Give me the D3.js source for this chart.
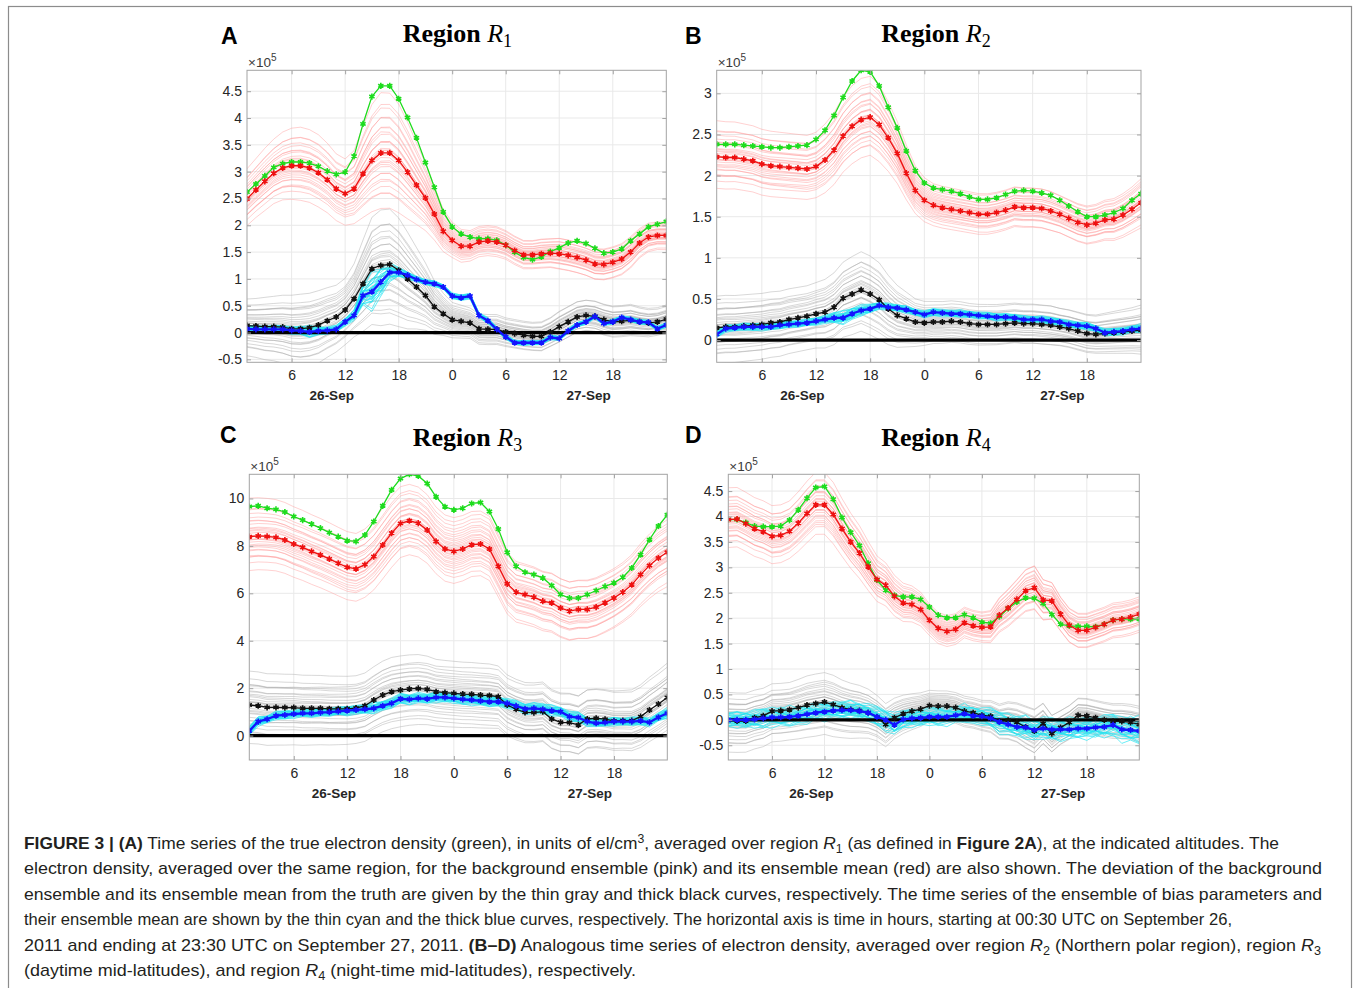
<!DOCTYPE html>
<html><head><meta charset="utf-8">
<script src="https://cdn.jsdelivr.net/npm/d3@7"></script>
<style>body{margin:0;background:#fff}svg{display:block}</style>
</head><body><svg id="chart" width="1356" height="988"></svg>
<script>
// ---------- shared axis data ----------
const hours = d3.range(1, 49); // 00:30 26-Sep ... 23:30 27-Sep (index 1..48)
const xTicks = [6, 12, 18, 24, 30, 36, 42];
const xTickLabels = ["6", "12", "18", "0", "6", "12", "18"];
const dateTicks = [10.5, 39.3];
const dateLabels = ["26-Sep", "27-Sep"];
const yTicksA = [-0.5, 0, 0.5, 1, 1.5, 2, 2.5, 3, 3.5, 4, 4.5];
const yTicksB = [0, 0.5, 1, 1.5, 2, 2.5, 3];
const yTicksC = [0, 2, 4, 6, 8, 10];
const yTicksD = [-0.5, 0, 0.5, 1, 1.5, 2, 2.5, 3, 3.5, 4, 4.5];

// ---------- Region R1 (x 1e5 el/cm3) ----------
const greenA = [2.62,2.77,2.92,3.08,3.15,3.18,3.18,3.16,3.10,3.01,2.95,2.99,3.29,3.89,4.40,4.60,4.60,4.36,4.01,3.63,3.17,2.71,2.25,1.97,1.84,1.78,1.75,1.75,1.72,1.63,1.50,1.40,1.36,1.41,1.51,1.58,1.67,1.71,1.66,1.57,1.48,1.50,1.56,1.71,1.84,1.97,2.02,2.07];
const redA   = [2.49,2.66,2.82,2.97,3.07,3.11,3.11,3.07,2.98,2.85,2.68,2.59,2.68,2.96,3.21,3.35,3.35,3.21,2.99,2.75,2.51,2.21,1.89,1.72,1.61,1.61,1.69,1.71,1.69,1.63,1.53,1.45,1.45,1.47,1.48,1.47,1.44,1.40,1.35,1.28,1.27,1.31,1.37,1.50,1.67,1.78,1.81,1.81];
const blackA = [0.13,0.12,0.11,0.11,0.10,0.07,0.07,0.09,0.14,0.22,0.29,0.42,0.63,0.91,1.19,1.25,1.27,1.16,1.00,0.85,0.69,0.48,0.35,0.24,0.21,0.18,0.07,0.06,0.06,0.01,-0.02,-0.05,-0.07,-0.07,0.01,0.11,0.20,0.29,0.32,0.30,0.24,0.20,0.21,0.23,0.20,0.18,0.20,0.25];
const blueA  = [0.07,0.06,0.06,0.06,0.06,0.04,0.03,0.01,0.03,0.04,0.06,0.20,0.32,0.69,0.76,0.94,1.12,1.12,1.07,0.99,0.94,0.91,0.85,0.68,0.65,0.68,0.32,0.22,0.06,-0.08,-0.19,-0.19,-0.19,-0.19,-0.09,-0.11,0.03,0.14,0.20,0.30,0.17,0.20,0.28,0.24,0.20,0.19,0.07,0.14];
const pinkSpreadA = [0.45,0.47,0.5,0.52,0.55,0.58,0.6,0.6,0.6,0.58,0.56,0.56,0.62,0.78,0.92,1.0,1.0,0.95,0.85,0.72,0.6,0.48,0.38,0.32,0.3,0.28,0.28,0.28,0.28,0.27,0.27,0.27,0.27,0.28,0.28,0.3,0.3,0.3,0.3,0.3,0.3,0.3,0.3,0.3,0.28,0.27,0.26,0.26];
const cyanSpreadA = [0.08,0.08,0.08,0.08,0.08,0.08,0.1,0.12,0.1,0.08,0.08,0.08,0.12,0.25,0.4,0.35,0.2,0.1,0.08,0.06,0.06,0.06,0.06,0.06,0.06,0.06,0.06,0.06,0.05,0.05,0.05,0.05,0.05,0.05,0.05,0.05,0.05,0.05,0.05,0.05,0.05,0.05,0.05,0.05,0.05,0.05,0.05,0.05];

// ---------- Region R2 ----------
const greenB = [2.38,2.38,2.38,2.37,2.36,2.35,2.34,2.34,2.35,2.36,2.37,2.44,2.55,2.73,2.95,3.15,3.28,3.26,3.09,2.83,2.58,2.30,2.06,1.91,1.85,1.83,1.81,1.78,1.74,1.71,1.71,1.73,1.77,1.81,1.82,1.81,1.79,1.76,1.70,1.63,1.56,1.50,1.50,1.52,1.55,1.60,1.70,1.78];
const redB   = [2.23,2.22,2.22,2.20,2.18,2.14,2.12,2.11,2.10,2.09,2.08,2.11,2.19,2.31,2.48,2.60,2.68,2.71,2.62,2.46,2.27,2.03,1.82,1.70,1.64,1.61,1.59,1.57,1.55,1.53,1.53,1.55,1.58,1.62,1.61,1.61,1.60,1.57,1.53,1.48,1.43,1.40,1.42,1.46,1.47,1.52,1.59,1.67];
const blackB = [0.15,0.16,0.16,0.17,0.18,0.19,0.21,0.22,0.25,0.27,0.29,0.32,0.34,0.40,0.51,0.56,0.61,0.56,0.49,0.38,0.30,0.26,0.22,0.21,0.22,0.22,0.23,0.22,0.20,0.19,0.19,0.19,0.20,0.21,0.20,0.20,0.19,0.18,0.16,0.14,0.11,0.08,0.07,0.08,0.09,0.10,0.11,0.12];
const blueB  = [0.07,0.14,0.15,0.16,0.16,0.16,0.16,0.18,0.19,0.20,0.21,0.23,0.25,0.27,0.27,0.32,0.36,0.38,0.42,0.40,0.39,0.37,0.34,0.31,0.34,0.33,0.32,0.32,0.31,0.30,0.29,0.28,0.28,0.27,0.25,0.25,0.25,0.23,0.22,0.19,0.18,0.17,0.14,0.09,0.10,0.11,0.13,0.14];
const pinkSpreadB = [0.35,0.35,0.35,0.35,0.35,0.35,0.35,0.35,0.35,0.35,0.35,0.36,0.38,0.4,0.42,0.44,0.45,0.45,0.44,0.4,0.36,0.32,0.28,0.26,0.25,0.25,0.25,0.25,0.25,0.25,0.25,0.25,0.25,0.25,0.25,0.25,0.25,0.25,0.24,0.24,0.24,0.24,0.24,0.25,0.26,0.27,0.28,0.3];
const cyanSpreadB = [0.05,0.05,0.05,0.05,0.05,0.05,0.05,0.05,0.05,0.05,0.05,0.05,0.06,0.08,0.09,0.09,0.08,0.06,0.05,0.05,0.05,0.05,0.05,0.05,0.05,0.05,0.05,0.05,0.05,0.05,0.05,0.05,0.05,0.05,0.05,0.05,0.05,0.05,0.05,0.05,0.05,0.05,0.05,0.05,0.05,0.05,0.05,0.06];

// ---------- Region R3 ----------
const greenC = [9.66,9.69,9.59,9.54,9.43,9.24,9.09,8.92,8.75,8.56,8.39,8.22,8.19,8.46,9.03,9.69,10.36,10.84,11.02,10.95,10.63,10.07,9.65,9.52,9.59,9.79,9.83,9.45,8.71,7.73,7.14,6.89,6.79,6.65,6.33,5.95,5.80,5.80,5.95,6.12,6.29,6.44,6.68,7.07,7.63,8.26,8.84,9.31];
const redC   = [8.39,8.42,8.40,8.36,8.25,8.08,7.94,7.77,7.62,7.45,7.27,7.10,7.03,7.21,7.55,8.04,8.54,8.95,9.06,8.96,8.67,8.19,7.87,7.77,7.87,8.05,8.08,7.87,7.14,6.40,6.05,5.95,5.84,5.67,5.60,5.38,5.25,5.32,5.32,5.42,5.60,5.80,6.05,6.36,6.79,7.17,7.49,7.73];
const blackC = [1.29,1.26,1.19,1.19,1.18,1.18,1.15,1.15,1.15,1.13,1.13,1.13,1.16,1.26,1.50,1.71,1.85,1.92,1.97,1.99,1.95,1.85,1.81,1.78,1.75,1.74,1.71,1.69,1.64,1.29,1.11,0.98,0.97,1.01,0.70,0.56,0.55,0.45,0.70,0.73,0.69,0.62,0.63,0.63,0.80,1.08,1.33,1.61];
const blueC  = [0.20,0.59,0.69,0.84,0.87,0.91,0.94,0.94,0.97,0.99,1.02,1.05,1.08,1.11,1.15,1.26,1.36,1.55,1.53,1.57,1.55,1.61,1.61,1.57,1.53,1.50,1.46,1.43,1.43,1.36,1.25,1.13,1.15,1.11,1.05,1.01,0.80,0.76,0.59,0.52,0.55,0.59,0.59,0.59,0.62,0.56,0.77,0.94];
const pinkSpreadC = [1.3,1.3,1.3,1.3,1.3,1.3,1.3,1.3,1.3,1.3,1.3,1.3,1.3,1.32,1.35,1.38,1.4,1.4,1.4,1.4,1.38,1.35,1.35,1.35,1.35,1.35,1.35,1.35,1.32,1.3,1.3,1.3,1.3,1.3,1.3,1.3,1.3,1.3,1.3,1.3,1.3,1.3,1.3,1.32,1.35,1.38,1.4,1.42];
const cyanSpreadC = [0.25,0.22,0.2,0.2,0.2,0.2,0.2,0.2,0.2,0.2,0.2,0.22,0.22,0.24,0.25,0.25,0.25,0.25,0.25,0.25,0.25,0.25,0.25,0.25,0.25,0.25,0.25,0.25,0.25,0.25,0.25,0.25,0.28,0.28,0.25,0.25,0.25,0.25,0.22,0.2,0.2,0.2,0.2,0.2,0.2,0.2,0.22,0.25];

// ---------- Region R4 ----------
const greenD = [3.94,3.94,3.88,3.81,3.80,3.80,3.81,3.93,4.13,4.36,4.57,4.59,4.34,3.98,3.69,3.43,3.08,2.75,2.55,2.45,2.42,2.42,2.37,2.22,2.06,2.01,2.01,2.07,2.01,1.92,1.90,2.03,2.19,2.32,2.40,2.39,2.29,2.07,1.88,1.85,1.84,1.84,1.83,1.88,1.96,1.98,1.98,1.98];
const redD   = [3.94,3.95,3.86,3.76,3.70,3.61,3.63,3.71,3.87,4.06,4.23,4.23,4.04,3.76,3.50,3.28,3.01,2.76,2.65,2.43,2.30,2.27,2.17,1.96,1.80,1.74,1.78,1.91,1.85,1.82,1.83,2.06,2.20,2.37,2.54,2.60,2.36,2.34,2.08,1.86,1.76,1.76,1.82,1.88,1.96,1.98,2.02,2.08];
const blackD = [-0.01,-0.02,-0.02,0.04,0.08,0.17,0.18,0.20,0.24,0.29,0.32,0.35,0.30,0.24,0.20,0.18,0.14,0.05,-0.09,0.04,0.12,0.17,0.21,0.28,0.27,0.27,0.24,0.17,0.14,0.09,0.07,-0.03,-0.01,-0.05,-0.14,-0.22,-0.07,-0.27,-0.15,-0.05,0.09,0.08,0.04,0.00,-0.03,-0.03,-0.05,-0.09];
const blueD  = [0.00,0.00,0.00,0.01,0.03,0.05,0.05,0.06,0.08,0.11,0.14,0.16,0.18,0.19,0.19,0.17,0.14,0.06,0.00,-0.10,0.01,0.03,0.04,0.06,0.06,0.06,0.09,0.12,0.08,0.07,0.03,-0.04,-0.09,-0.14,-0.15,-0.20,-0.17,-0.19,-0.19,-0.19,-0.17,-0.17,-0.15,-0.14,-0.10,-0.19,-0.20,-0.22];
const pinkSpreadD = [0.5,0.5,0.5,0.5,0.5,0.5,0.5,0.5,0.52,0.54,0.55,0.55,0.55,0.52,0.5,0.48,0.45,0.42,0.4,0.38,0.36,0.34,0.32,0.3,0.3,0.3,0.3,0.3,0.3,0.3,0.32,0.35,0.38,0.4,0.43,0.45,0.42,0.38,0.35,0.35,0.35,0.35,0.35,0.35,0.35,0.35,0.35,0.35];
const cyanSpreadD = [0.18,0.18,0.2,0.2,0.22,0.22,0.22,0.22,0.22,0.22,0.2,0.2,0.2,0.2,0.2,0.2,0.2,0.22,0.25,0.25,0.22,0.2,0.2,0.2,0.2,0.2,0.2,0.2,0.2,0.2,0.22,0.25,0.25,0.25,0.25,0.25,0.25,0.25,0.25,0.25,0.25,0.25,0.25,0.25,0.25,0.28,0.3,0.3];

// ensemble member placement (relative position inside the spread)
const memberOffsets = [-1.0,-0.82,-0.7,-0.61,-0.53,-0.46,-0.4,-0.34,-0.28,-0.23,-0.18,-0.13,-0.09,-0.05,-0.01,0.03,0.07,0.11,0.16,0.21,0.26,0.32,0.38,0.45,0.52,0.6,0.69,0.8,0.92,1.05];
const memberTilts   = [0.1,-0.2,0.15,0.05,-0.1,0.2,-0.05,0.12,-0.18,0.08,0.0,-0.12,0.18,-0.08,0.1,-0.15,0.05,0.2,-0.1,0.0,0.15,-0.2,0.1,-0.05,0.12,-0.15,0.08,-0.1,0.05,-0.2];
const cyanWiggle    = [0.3,-0.4,0.5,-0.2,0.1,-0.5,0.4,-0.1,0.2,-0.3,0.6,-0.6,0.0,0.35,-0.35,0.15,-0.15,0.45,-0.45,0.25];

const panels = [
  {letter:"A", sub:"1", green:greenA, red:redA, black:blackA, blue:blueA, pink:pinkSpreadA, cyan:cyanSpreadA, yDomain:[-0.555,4.89], yTicks:yTicksA,
   box:{x0:247,x1:666.3,y0:70.3,y1:362.3}, titleX:457.4, lx:221, ly:44.3},
  {letter:"B", sub:"2", green:greenB, red:redB, black:blackB, blue:blueB, pink:pinkSpreadB, cyan:cyanSpreadB, yDomain:[-0.27,3.28], yTicks:yTicksB,
   box:{x0:716.7,x1:1141,y0:70.3,y1:362.3}, titleX:936, lx:685, ly:44.3},
  {letter:"C", sub:"3", green:greenC, red:redC, black:blackC, blue:blueC, pink:pinkSpreadC, cyan:cyanSpreadC, yDomain:[-1.03,11.02], yTicks:yTicksC,
   box:{x0:249.3,x1:667.3,y0:474.3,y1:760}, titleX:467.5, lx:220, ly:443.3},
  {letter:"D", sub:"4", green:greenD, red:redD, black:blackD, blue:blueD, pink:pinkSpreadD, cyan:cyanSpreadD, yDomain:[-0.79,4.83], yTicks:yTicksD,
   box:{x0:728.3,x1:1139.3,y0:474.3,y1:760}, titleX:936, lx:685, ly:443.3}
];

const svg = d3.select("#chart");
svg.append("rect").attr("x",8.5).attr("y",6.5).attr("width",1343).attr("height",1010)
  .attr("fill","none").attr("stroke","#8c8c8c").attr("stroke-width",1.2);

const FONT = "'Liberation Sans', Arial, Helvetica, sans-serif";

panels.forEach((p, pi) => {
  const b = p.box;
  const x = d3.scaleLinear().domain([1, 48]).range([b.x0, b.x1]);
  const y = d3.scaleLinear().domain(p.yDomain).range([b.y1, b.y0]);
  const g = svg.append("g");
  const clipId = "clip" + pi;
  g.append("clipPath").attr("id", clipId).append("rect")
    .attr("x", b.x0).attr("y", b.y0).attr("width", b.x1 - b.x0).attr("height", b.y1 - b.y0);

  // grid
  g.append("g").selectAll("line").data(xTicks).join("line")
    .attr("x1", d => x(d)).attr("x2", d => x(d)).attr("y1", b.y0).attr("y2", b.y1)
    .attr("stroke", "#e9e9e9").attr("stroke-width", 1);
  g.append("g").selectAll("line").data(p.yTicks).join("line")
    .attr("x1", b.x0).attr("x2", b.x1).attr("y1", d => y(d)).attr("y2", d => y(d))
    .attr("stroke", "#e9e9e9").attr("stroke-width", 1);

  const plot = g.append("g").attr("clip-path", `url(#${clipId})`);
  const line = d3.line().x((d, i) => x(hours[i])).y(d => y(d));

  const pinkMembers = memberOffsets.map((o, k) =>
    p.red.map((v, i) => v + p.pink[i] * (o + memberTilts[k] * ((hours[i] - 24.5) / 23.5))));
  const grayMembers = memberOffsets.map((o, k) =>
    p.black.map((v, i) => v - p.pink[i] * (o + memberTilts[k] * ((hours[i] - 24.5) / 23.5))));
  const cyanMembers = memberOffsets.map((o, k) =>
    p.blue.map((v, i) => v + p.cyan[i] * (o * 0.8 + 0.35 * cyanWiggle[(i + k * 7) % cyanWiggle.length])));

  plot.append("g").selectAll("path").data(pinkMembers).join("path")
    .attr("d", line).attr("fill", "none").attr("stroke", "#ff9a9a").attr("stroke-opacity", 0.5).attr("stroke-width", 0.9);
  plot.append("g").selectAll("path").data(grayMembers).join("path")
    .attr("d", line).attr("fill", "none").attr("stroke", "#a9a9a9").attr("stroke-opacity", 0.5).attr("stroke-width", 0.9);
  plot.append("g").selectAll("path").data(cyanMembers).join("path")
    .attr("d", line).attr("fill", "none").attr("stroke", "#22e4f2").attr("stroke-opacity", 0.75).attr("stroke-width", 0.9);

  // zero line
  plot.append("line").attr("x1", b.x0).attr("x2", b.x1).attr("y1", y(0)).attr("y2", y(0))
    .attr("stroke", "#000").attr("stroke-width", 3.2);

  const star = d3.symbol().type(d3.symbolAsterisk).size(26);
  const means = [
    {d: p.green, c: "#1edc1e", w: 1.3},
    {d: p.red, c: "#ee1111", w: 1.3},
    {d: p.black, c: "#111111", w: 1.3},
    {d: p.blue, c: "#1414ff", w: 2.3}
  ];
  means.forEach(m => {
    plot.append("path").attr("d", line(m.d)).attr("fill", "none").attr("stroke", m.c).attr("stroke-width", m.w);
    plot.append("g").selectAll("path").data(m.d).join("path")
      .attr("transform", (d, i) => `translate(${x(hours[i])},${y(d)})`)
      .attr("d", star).attr("fill", "none").attr("stroke", m.c).attr("stroke-width", 1.6);
    plot.append("g").selectAll("circle").data(m.d).join("circle")
      .attr("cx", (d, i) => x(hours[i])).attr("cy", d => y(d)).attr("r", 1.5).attr("fill", m.c);
  });

  // box
  g.append("rect").attr("x", b.x0).attr("y", b.y0).attr("width", b.x1 - b.x0).attr("height", b.y1 - b.y0)
    .attr("fill", "none").attr("stroke", "#a3a3a3").attr("stroke-width", 1);

  // axes (MATLAB style inward ticks)
  const yAxis = d3.axisLeft(y).tickValues(p.yTicks).tickFormat(d => String(d)).tickSize(-4).tickPadding(5);
  const ya = g.append("g").attr("transform", `translate(${b.x0},0)`).call(yAxis);
  const xAxis = d3.axisBottom(x).tickValues(xTicks).tickFormat((d, i) => xTickLabels[i]).tickSize(-4).tickPadding(8);
  const xa = g.append("g").attr("transform", `translate(0,${b.y1})`).call(xAxis);
  const xTop = d3.axisTop(x).tickValues(xTicks).tickFormat("").tickSize(-4);
  const xt = g.append("g").attr("transform", `translate(0,${b.y0})`).call(xTop);
  const yRight = d3.axisRight(y).tickValues(p.yTicks).tickFormat("").tickSize(-4);
  const yr = g.append("g").attr("transform", `translate(${b.x1},0)`).call(yRight);
  [ya, xa, xt, yr].forEach(a => {
    a.select(".domain").remove();
    a.selectAll(".tick line").attr("stroke", "#a3a3a3");
    a.selectAll(".tick text").attr("fill", "#262626").style("font-family", FONT).style("font-size", "14px");
  });

  // date labels
  g.append("g").selectAll("text").data(dateTicks).join("text")
    .attr("x", d => x(d)).attr("y", b.y1 + 37.5).attr("text-anchor", "middle")
    .style("font-family", FONT).style("font-size", "13.5px").style("font-weight", "bold").attr("fill", "#262626")
    .text((d, i) => dateLabels[i]);

  // exponent label
  const ex = g.append("text").attr("x", b.x0 + 1).attr("y", b.y0 - 3.5)
    .style("font-family", FONT).style("font-size", "13.5px").attr("fill", "#3a3a3a");
  ex.append("tspan").text("\u00d710");
  ex.append("tspan").attr("dy", -6).style("font-size", "10px").text("5");

  // title
  const t = g.append("text").attr("x", p.titleX).attr("y", b.y0 - 28.5).attr("text-anchor", "middle")
    .style("font-family", "'Liberation Serif', 'Times New Roman', serif").style("font-size", "26px").attr("fill", "#000");
  t.append("tspan").style("font-weight", "bold").text("Region ");
  t.append("tspan").style("font-style", "italic").text("R");
  t.append("tspan").attr("dy", 5).style("font-size", "18px").text(p.sub);

  // panel letter
  g.append("text").attr("x", p.lx).attr("y", p.ly)
    .style("font-family", FONT).style("font-size", "23px").style("font-weight", "bold").attr("fill", "#000")
    .text(p.letter);
});

// ---------- caption ----------
const captionLines = [
  [{t:"FIGURE 3 | (A)", b:1}, {t:" Time series of the true electron density (green), in units of el/cm"}, {t:"3", sup:1}, {t:", averaged over region "}, {t:"R", i:1}, {t:"1", sub:1}, {t:" (as defined in "}, {t:"Figure 2A", b:1}, {t:"), at the indicated altitudes. The"}],
  [{t:"electron density, averaged over the same region, for the background ensemble (pink) and its ensemble mean (red) are also shown. The deviation of the background"}],
  [{t:"ensemble and its ensemble mean from the truth are given by the thin gray and thick black curves, respectively. The time series of the ensemble of bias parameters and"}],
  [{t:"their ensemble mean are shown by the thin cyan and the thick blue curves, respectively. The horizontal axis is time in hours, starting at 00:30 UTC on September 26,"}],
  [{t:"2011 and ending at 23:30 UTC on September 27, 2011. "}, {t:"(B\u2013D)", b:1}, {t:" Analogous time series of electron density, averaged over region "}, {t:"R", i:1}, {t:"2", sub:1}, {t:" (Northern polar region), region "}, {t:"R", i:1}, {t:"3", sub:1}],
  [{t:"(daytime mid-latitudes), and region "}, {t:"R", i:1}, {t:"4", sub:1}, {t:" (night-time mid-latitudes), respectively."}]
];
const captionWidths = [1255, 1298, 1298, 1208, 1297, 612];
const capG = svg.append("g");
captionLines.forEach((segs, li) => {
  const tx = capG.append("text").attr("x", 24).attr("y", 849 + li * 25.4)
    .style("font-family", FONT).style("font-size", "17px").attr("fill", "#231f20")
    .attr("textLength", captionWidths[li]).attr("lengthAdjust", "spacingAndGlyphs");
  let shift = 0;
  segs.forEach(s => {
    const ts = tx.append("tspan").text(s.t);
    if (s.b) ts.style("font-weight", "bold");
    if (s.i) ts.style("font-style", "italic");
    let target = s.sub ? 4 : (s.sup ? -6 : 0);
    if (target !== shift) { ts.attr("dy", target - shift); shift = target; }
    if (s.sub || s.sup) ts.style("font-size", "12px");
  });
});
</script>
</body></html>
